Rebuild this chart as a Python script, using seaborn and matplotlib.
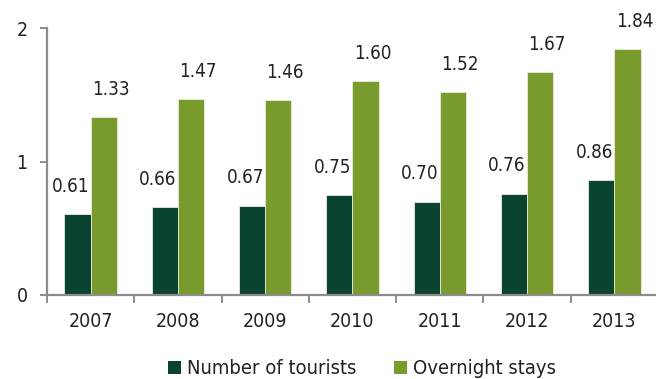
import matplotlib
matplotlib.use("Agg")
import matplotlib.pyplot as plt
import seaborn as sns
import pandas as pd
from matplotlib.patches import Patch
from matplotlib import font_manager

years = ["2007", "2008", "2009", "2010", "2011", "2012", "2013"]
tourists = [0.61, 0.66, 0.67, 0.75, 0.70, 0.76, 0.86]
overnight = [1.33, 1.47, 1.46, 1.60, 1.52, 1.67, 1.84]
series_names = ["Number of tourists", "Overnight stays"]
y_ticks = [0, 1, 2]
colors = ["#0B4331", "#799B2E"]

sns.set_theme(style="white")
fonts = font_manager.fontManager.ttflist
names = {f.name for f in fonts}
has_cond = any(f.name == "DejaVu Sans" and str(f.stretch) in ("condensed", "semi-condensed", "500", "300")
               for f in fonts)
if "Liberation Sans Narrow" in names:
    plt.rcParams["font.family"] = ["Liberation Sans Narrow", "DejaVu Sans"]
    fs_tick, fs_val, fs_leg = 16, 15, 16
elif has_cond:
    plt.rcParams["font.family"] = ["DejaVu Sans"]
    plt.rcParams["font.stretch"] = "condensed"
    fs_tick, fs_val, fs_leg = 14, 13.5, 14.5
else:
    plt.rcParams["font.family"] = ["DejaVu Sans"]
    fs_tick, fs_val, fs_leg = 13, 12.5, 13

df = pd.DataFrame({
    "year": years * 2,
    "value": tourists + overnight,
    "series": [series_names[0]] * len(years) + [series_names[1]] * len(years),
})

W, H = 656, 379
fig = plt.figure(figsize=(W / 100, H / 100), dpi=100)
left, right, top, bottom = 47, 658, 28, 295
ax = fig.add_axes([left / W, 1 - bottom / H, (right - left) / W, (bottom - top) / H])

sns.barplot(data=df, x="year", y="value", hue="series", palette=colors,
            width=0.6, ax=ax, legend=False, edgecolor="#e8eed8", linewidth=0.6,
            saturation=1)

ax.set_xlim(-0.5, 6.5)
ax.set_ylim(0, 2)
ax.set_yticks(y_ticks)
ax.set_yticklabels([str(t) for t in y_ticks])
ax.set_xlabel("")
ax.set_ylabel("")

for s in ["top", "right"]:
    ax.spines[s].set_visible(False)
for s in ["left", "bottom"]:
    ax.spines[s].set_color("#8c8c8c")
    ax.spines[s].set_linewidth(1.6)

ax.tick_params(axis="y", which="major", left=True, length=5, width=1.4, color="#8c8c8c",
               labelsize=fs_tick, labelcolor="#222222", pad=9)
ax.tick_params(axis="x", which="major", bottom=False, labelsize=fs_tick, labelcolor="#222222", pad=6)
ax.set_xticks([i - 0.5 for i in range(len(years))], minor=True)
ax.tick_params(axis="x", which="minor", bottom=True, length=6, width=1.4, color="#8c8c8c")

# value labels
containers = ax.containers
for cont, vals, dx in zip(containers, [tourists, overnight], [-5, 5]):
    for bar, v in zip(cont, vals):
        ax.annotate(f"{v:.2f}", (bar.get_x() + bar.get_width() / 2, bar.get_height()),
                    xytext=(dx, 13), textcoords="offset points", ha="center", va="bottom",
                    fontsize=fs_val, color="#222222")

handles = [Patch(facecolor=c, edgecolor="none") for c in colors]
fig.legend(handles, series_names, loc="center", bbox_to_anchor=(362 / W, 1 - 369 / H),
           ncol=2, frameon=False, fontsize=fs_leg, handlelength=0.65, handleheight=0.65,
           handletextpad=0.3, columnspacing=1.9, labelcolor="#222222", borderpad=0)

fig.savefig("out.png", dpi=100)
